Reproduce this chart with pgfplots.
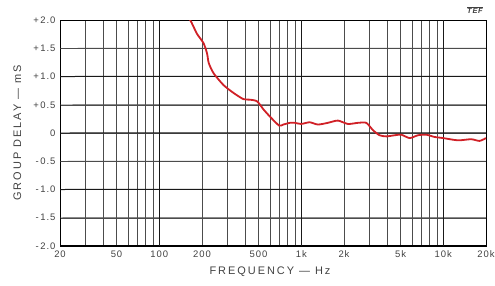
\documentclass[border=0pt]{standalone}
\usepackage{fontspec}
\setmainfont{Liberation Sans}[LetterSpace=10]
\newfontfamily\labelfont{Liberation Sans}[LetterSpace=18]
\usepackage{pgfplots}
\pgfplotsset{compat=1.18}
\definecolor{curvered}{RGB}{208,32,38}
\definecolor{txt}{RGB}{65,65,65}
\begin{document}
\begin{tikzpicture}
\useasboundingbox (-60bp,-40bp) rectangle (435bp,246bp);
\begin{axis}[
  at={(0,0)}, anchor=south west,
  scale only axis, width=426bp, height=226bp,
  xmode=log, log basis x=10,
  xmin=20, xmax=20000, ymin=-2, ymax=2,
  xtick={20,50,100,200,500,1000,2000,5000,10000,20000},
  xticklabels={20,50,100,200,500,1k,2k,5k,10k,20k},
  minor xtick={30,40,60,70,80,90,300,400,600,700,800,900,3000,4000,6000,7000,8000,9000},
  ytick={-2,-1.5,-1,-0.5,0,0.5,1,1.5,2},
  yticklabels={-\,2.0,-\,1.5,-\,1.0,-\,0.5,0,+\,0.5,+\,1.0,+\,1.5,+\,2.0},
  grid=both,
  major grid style={black!70, line width=0.5bp},
  minor grid style={black!70, line width=0.5bp},
  tick style={draw=none},
  axis line style={black, line width=0.9bp},
  tick label style={font=\fontsize{9.5}{11}\selectfont, text=txt},
  xticklabel style={yshift=-1bp},
  yticklabel style={xshift=-1bp},
  xlabel={FREQUENCY — Hz}, ylabel={GROUP DELAY — mS},
  label style={font=\labelfont\fontsize{11}{13}\selectfont, text=txt},
  xlabel style={at={(axis description cs:0.493,-0.115)}, anchor=center},
  ylabel style={at={(axis description cs:-0.1,0.5)}, anchor=center, rotate=0},
]
% horizontal rulings (tiny slope so they always render)
\addplot[black!70, line width=0.5bp, forget plot] coordinates {(20,-1.5) (20000,-1.4995)};
\addplot[black!70, line width=0.5bp, forget plot] coordinates {(20,-0.5) (20000,-0.4995)};
\addplot[black!70, line width=0.5bp, forget plot] coordinates {(20,0.5) (20000,0.5005)};
\addplot[black!70, line width=0.5bp, forget plot] coordinates {(20,1.5) (20000,1.5005)};
\addplot[black!90, line width=1.0bp, forget plot] coordinates {(20,-1) (20000,-0.9995)};
\addplot[black!90, line width=1.0bp, forget plot] coordinates {(20,0) (20000,0.0005)};
\addplot[black!90, line width=1.0bp, forget plot] coordinates {(20,1) (20000,1.0005)};
\addplot[black, line width=1.8bp, forget plot] coordinates {(20,-2) (20000,-1.9995)};
\addplot[black, line width=1.8bp, forget plot] coordinates {(20,2) (20000,1.9995)};
\addplot[black!90, line width=1.1bp, forget plot] coordinates {(100,-2) (100,2)};
\addplot[black!90, line width=1.1bp, forget plot] coordinates {(1000,-2) (1000,2)};
\addplot[black!90, line width=1.1bp, forget plot] coordinates {(10000,-2) (10000,2)};
\addplot[curvered, line width=1.8bp, smooth, tension=0.4] coordinates {
(150,2.08) (165,2.0) (184,1.76) (205,1.59) (217,1.41) (223,1.24) (241,1.06)
(283,0.85) (333,0.71) (391,0.60) (435,0.59) (489,0.56) (545,0.41) (618,0.26)
(700,0.13) (748,0.15) (832,0.18) (900,0.18) (1000,0.16) (1145,0.19) (1310,0.15)
(1540,0.18) (1810,0.22) (2130,0.16) (2510,0.18) (2870,0.18) (3200,0.05)
(3560,-0.04) (3970,-0.06) (4540,-0.04) (5060,-0.03) (5800,-0.09) (6630,-0.04)
(7580,-0.03) (8680,-0.07) (10000,-0.09) (12700,-0.13) (15700,-0.11)
(18000,-0.14) (20000,-0.09)
};
\end{axis}
\node[font=\bfseries\itshape\fontsize{7.5}{8}\selectfont, text=txt] at (415bp,236bp) {$\overline{\mbox{TEF}}$};
\end{tikzpicture}
\end{document}
